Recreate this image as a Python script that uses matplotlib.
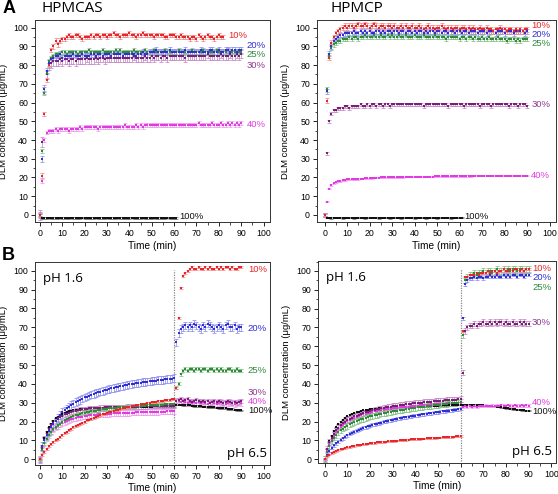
import numpy as np
import matplotlib
matplotlib.use("Agg")
import matplotlib.pyplot as plt
from matplotlib.ticker import MultipleLocator

# ---------------- data ----------------
time_min = list(range(91))
series_names = ["10%", "20%", "25%", "30%", "40%", "100%"]
PH_SWITCH = 60

# Panel A, HPMCAS
A_CAS_10 = [0, 21, 54, 72, 80, 88, 90, 93, 91, 93,
            94, 94, 95, 96, 95, 95, 96, 96, 95, 94,
            95, 95, 95, 96, 95, 96, 96, 95, 96, 96,
            95, 96, 96, 97, 96, 96, 95, 96, 96, 96,
            97, 96, 96, 95, 96, 96, 97, 96, 96, 96,
            96, 95, 96, 96, 96, 96, 95, 95, 96, 96,
            96, 95, 95, 96, 95, 95, 95, 94, 95, 95,
            94, 96, 95, 94, 95, 96, 95, 95, 94, 95,
            96, 95, 95]
A_CAS_20 = [0, 30, 67, 77, 81, 83, 84, 85, 85, 86,
            84, 85, 85, 85, 85, 86, 85, 85, 85, 86,
            85, 85, 85, 86, 86, 85, 86, 86, 85, 86,
            86, 86, 85, 86, 86, 86, 86, 85, 86, 86,
            86, 86, 86, 85, 86, 86, 87, 86, 86, 87,
            87, 87, 88, 87, 87, 87, 87, 87, 88, 87,
            87, 87, 87, 87, 87, 88, 87, 87, 87, 87,
            87, 87, 88, 87, 87, 87, 88, 88, 87, 87,
            88, 87, 87, 88, 88, 87, 88, 88, 87, 88,
            88]
A_CAS_25 = [0, 34, 65, 76, 82, 84, 85, 86, 86, 86,
            87, 87, 86, 87, 87, 87, 87, 86, 87, 87,
            87, 87, 88, 87, 87, 87, 87, 87, 88, 87,
            87, 87, 87, 87, 88, 87, 88, 87, 87, 87,
            87, 87, 88, 87, 87, 87, 87, 88, 87, 87,
            87, 88, 87, 87, 87, 87, 88, 87, 87, 87,
            87, 87, 88, 87, 87, 87, 87, 87, 88, 87,
            87, 87, 87, 88, 87, 87, 87, 87, 87, 88,
            87, 87, 87, 87, 88, 87, 87, 87, 87, 87,
            87]
A_CAS_30 = [0, 39, 67, 75, 80, 81, 82, 82, 82, 83,
            82, 83, 83, 82, 83, 83, 82, 83, 83, 83,
            83, 84, 83, 83, 83, 84, 83, 84, 84, 83,
            84, 84, 84, 84, 84, 84, 84, 84, 84, 84,
            84, 84, 85, 84, 84, 84, 84, 85, 84, 84,
            85, 84, 85, 85, 84, 85, 85, 84, 85, 85,
            85, 85, 85, 85, 85, 84, 85, 85, 85, 85,
            85, 85, 85, 85, 85, 86, 85, 85, 85, 85,
            85, 86, 85, 85, 85, 86, 85, 85, 86, 85,
            86]
A_CAS_40 = [0, 18, 40, 44, 45, 45, 45, 46, 45, 46,
            46, 46, 46, 45, 46, 46, 46, 46, 47, 46,
            47, 47, 47, 47, 47, 47, 46, 47, 47, 47,
            47, 47, 47, 47, 47, 47, 47, 47, 48, 47,
            47, 47, 47, 48, 47, 48, 47, 48, 48, 48,
            48, 48, 48, 48, 48, 48, 48, 48, 48, 48,
            48, 48, 48, 48, 48, 48, 48, 48, 48, 48,
            48, 49, 48, 48, 48, 48, 48, 49, 48, 48,
            48, 49, 48, 48, 49, 48, 49, 48, 49, 48,
            49]
A_CAS_100 = [0, -1.5, -1.6, -1.5, -1.4, -1.5, -1.6, -1.5, -1.5, -1.4,
             -1.5, -1.6, -1.5, -1.5, -1.4, -1.5, -1.5, -1.6, -1.5, -1.4,
             -1.5, -1.5, -1.6, -1.5, -1.5, -1.4, -1.5, -1.6, -1.5, -1.5,
             -1.4, -1.5, -1.5, -1.6, -1.5, -1.4, -1.5, -1.5, -1.6, -1.5,
             -1.5, -1.4, -1.5, -1.6, -1.5, -1.5, -1.4, -1.5, -1.5, -1.6,
             -1.5, -1.4, -1.5, -1.5, -1.6, -1.5, -1.5, -1.4, -1.5, -1.6,
             -1.5, -1.5]

# Panel A, HPMCP
A_CP_10 = [0, 61, 84, 92, 95, 97, 98, 99, 100, 101,
           100, 101, 101, 100, 101, 102, 101, 101, 102, 101,
           100, 101, 102, 101, 100, 101, 101, 100, 101, 101,
           100, 101, 100, 100, 101, 100, 101, 100, 100, 101,
           100, 100, 101, 100, 99, 100, 101, 100, 100, 99,
           100, 100, 101, 100, 99, 100, 100, 99, 100, 100,
           99, 100, 100, 99, 100, 99, 100, 99, 99, 100,
           99, 99, 100, 99, 99, 98, 99, 99, 100, 99,
           99, 98, 99, 99, 98, 99, 98, 99, 98, 99,
           99]
A_CP_20 = [0, 66, 86, 90, 93, 94, 95, 96, 96, 97,
           97, 97, 97, 98, 97, 97, 98, 97, 98, 97,
           98, 97, 97, 98, 98, 97, 98, 97, 98, 98,
           97, 98, 98, 97, 98, 98, 97, 98, 98, 97,
           98, 97, 98, 98, 97, 98, 97, 98, 98, 97,
           98, 98, 97, 98, 98, 97, 98, 98, 97, 98,
           98, 97, 98, 98, 97, 98, 98, 98, 97, 98,
           98, 98, 97, 98, 98, 98, 97, 98, 98, 98,
           97, 98, 98, 98, 97, 98, 98, 98, 98, 97,
           98]
A_CP_25 = [0, 67, 85, 89, 91, 92, 93, 93, 94, 94,
           94, 95, 94, 95, 95, 94, 95, 95, 96, 95,
           95, 95, 96, 95, 95, 96, 95, 95, 96, 95,
           96, 95, 95, 96, 95, 95, 96, 95, 95, 95,
           96, 95, 95, 95, 96, 95, 95, 95, 95, 96,
           95, 95, 95, 95, 94, 95, 95, 95, 95, 95,
           94, 95, 95, 94, 95, 95, 94, 95, 94, 94,
           95, 94, 94, 95, 94, 94, 94, 95, 94, 94,
           94, 93, 94, 94, 94, 93, 94, 93, 94, 94,
           94]
A_CP_30 = [0, 33, 50, 54, 56, 56, 57, 57, 57, 58,
           58, 57, 58, 58, 58, 58, 59, 58, 58, 59,
           58, 59, 59, 58, 59, 59, 58, 59, 59, 58,
           59, 59, 59, 59, 59, 59, 59, 59, 59, 59,
           59, 59, 59, 59, 58, 59, 59, 59, 59, 59,
           59, 59, 59, 59, 59, 58, 59, 59, 59, 59,
           59, 59, 58, 59, 59, 59, 59, 59, 59, 58,
           59, 59, 59, 59, 58, 59, 59, 59, 59, 59,
           59, 59, 58, 59, 59, 59, 58, 59, 59, 59,
           58]
A_CP_40 = [0, 7, 14, 16, 17, 17.5, 18, 18, 18.5, 18.5,
           19, 19, 19, 19, 19, 19.2, 19.3, 19.4, 19.5, 19.5,
           19.6, 19.7, 19.8, 19.8, 19.9, 20, 20, 20, 20, 20,
           20, 20.1, 20.1, 20.2, 20.2, 20.2, 20.3, 20.3, 20.3, 20.4,
           20.4, 20.4, 20.4, 20.5, 20.5, 20.5, 20.5, 20.5, 20.5, 20.6,
           20.6, 20.6, 20.6, 20.6, 20.7, 20.7, 20.7, 20.7, 20.7, 20.8,
           20.8, 20.8, 20.8, 20.8, 20.8, 20.8, 20.9, 20.9, 20.9, 20.9,
           20.9, 20.9, 20.9, 21, 21, 21, 21, 21, 21, 21,
           21, 21, 21, 21, 21, 21, 21, 21, 21, 21,
           21]
A_CP_100 = [0, -1.5, -1.5, -1.6, -1.5, -1.4, -1.5, -1.5, -1.6, -1.5,
            -1.4, -1.5, -1.5, -1.6, -1.5, -1.5, -1.4, -1.5, -1.6, -1.5,
            -1.5, -1.4, -1.5, -1.5, -1.6, -1.5, -1.4, -1.5, -1.5, -1.6,
            -1.5, -1.5, -1.4, -1.5, -1.6, -1.5, -1.5, -1.4, -1.5, -1.5,
            -1.6, -1.5, -1.4, -1.5, -1.5, -1.6, -1.5, -1.5, -1.4, -1.5,
            -1.6, -1.5, -1.5, -1.4, -1.5, -1.5, -1.6, -1.5, -1.4, -1.5,
            -1.5, -1.5]

# Panel B, HPMCAS (pH 1.6 -> 6.5 at 60 min)
B_CAS_10 = [0, 2.5, 4, 5.5, 7, 8, 9, 10, 11, 12,
            13, 14, 14.7, 15.5, 16.2, 17, 17.6, 18.3, 18.9, 19.5,
            20, 20.6, 21.1, 21.6, 22.1, 22.5, 23, 23.4, 23.8, 24.2,
            24.6, 25, 25.3, 25.7, 26, 26.3, 26.6, 27, 27.3, 27.5,
            27.8, 28.1, 28.4, 28.6, 28.9, 29.1, 29.4, 29.6, 29.8, 30,
            30.2, 30.4, 30.6, 30.8, 31, 31.1, 31.3, 31.5, 31.6, 31.8,
            32, 38, 75, 91, 97, 99, 100, 101, 102, 101,
            101, 102, 101, 101, 102, 101, 102, 101, 101, 102,
            101, 102, 101, 102, 102, 101, 102, 101, 101, 102,
            102]
B_CAS_20 = [0, 7, 10.5, 13, 15, 17, 19, 20.5, 22, 23.5,
            25, 26, 27, 28, 28.8, 29.6, 30.4, 31, 31.6, 32.2,
            32.8, 33.3, 33.8, 34.3, 34.7, 35.1, 35.5, 35.9, 36.3, 36.6,
            37, 37.3, 37.6, 37.9, 38.2, 38.5, 38.7, 39, 39.2, 39.5,
            39.7, 39.9, 40.1, 40.3, 40.5, 40.7, 40.9, 41, 41.2, 41.4,
            41.5, 41.7, 41.8, 42, 42.1, 42.2, 42.4, 42.5, 42.6, 42.8,
            43, 62, 67, 69, 70, 71, 70, 71, 70, 72,
            71, 70, 69, 71, 70, 72, 71, 70, 69, 70,
            71, 70, 69, 71, 72, 70, 70, 71, 69, 70,
            70]
B_CAS_25 = [0, 5, 8.5, 11, 13, 14.5, 16, 17, 18, 19,
            20, 20.7, 21.3, 21.9, 22.4, 22.9, 23.3, 23.7, 24.1, 24.4,
            24.7, 25, 25.3, 25.5, 25.7, 25.9, 26.1, 26.3, 26.5, 26.7,
            26.8, 27, 27.1, 27.3, 27.4, 27.5, 27.6, 27.7, 27.8, 27.9,
            28, 28.1, 28.2, 28.3, 28.3, 28.4, 28.5, 28.5, 28.6, 28.7,
            28.7, 28.8, 28.8, 28.9, 29, 29, 29.1, 29.1, 29.2, 29.2,
            29.3, 38, 40, 45, 47, 48, 47, 48, 48, 47,
            48, 48, 47, 48, 48, 47, 48, 48, 47, 48,
            47, 48, 47, 47, 48, 48, 47, 47, 48, 47,
            47]
B_CAS_30 = [0, 6, 10.5, 13.5, 16, 18, 19.5, 20.5, 21.5, 22.5,
            23.2, 23.8, 24.3, 24.8, 25.2, 25.5, 25.8, 26.1, 26.3, 26.5,
            26.7, 26.8, 27, 27.1, 27.2, 27.2, 27.3, 27.4, 27.4, 27.5,
            27.5, 27.6, 27.6, 27.7, 27.7, 27.7, 27.8, 27.8, 27.8, 27.9,
            27.9, 27.9, 28, 28, 28, 28, 28.1, 28.1, 28.1, 28.2,
            28.2, 28.2, 28.2, 28.3, 28.3, 28.3, 28.3, 28.4, 28.4, 28.4,
            28.5, 31, 31.5, 32, 31, 31.5, 32, 31, 30.5, 31,
            31.5, 31, 30.5, 31, 30.5, 31, 30, 30.5, 31, 30.5,
            31, 30.5, 30, 30.5, 31, 30.5, 30, 30.5, 30, 30.5,
            31]
B_CAS_40 = [0, 5, 8.5, 11, 13, 14.5, 15.8, 16.8, 17.7, 18.5,
            19.2, 19.8, 20.3, 20.8, 21.2, 21.6, 21.9, 22.2, 22.5, 22.7,
            22.9, 23.1, 23.3, 23.4, 23.5, 23.7, 23.8, 23.9, 24, 24.1,
            24.2, 24.2, 24.3, 24.4, 24.4, 24.5, 24.5, 24.6, 24.6, 24.7,
            24.7, 24.8, 24.8, 24.9, 24.9, 25, 25, 25, 25.1, 25.1,
            25.1, 25.2, 25.2, 25.2, 25.3, 25.3, 25.3, 25.4, 25.4, 25.4,
            25.5, 31, 31, 30.5, 31, 30.5, 30, 30.5, 30, 30.5,
            30, 30.5, 30, 30.5, 30, 29.5, 30, 30.5, 30, 29.5,
            30, 30.5, 30, 29.5, 30, 30.5, 30, 29.5, 30, 30.5,
            30]
B_CAS_100 = [0, 7, 11.5, 14.5, 17, 19, 20.5, 21.7, 22.7, 23.5,
             24.1, 24.6, 25, 25.4, 25.7, 26, 26.2, 26.4, 26.6, 26.7,
             26.8, 26.9, 27, 27.1, 27.2, 27.2, 27.3, 27.3, 27.4, 27.4,
             27.5, 27.5, 27.5, 27.6, 27.6, 27.6, 27.7, 27.7, 27.7, 27.8,
             27.8, 27.8, 27.8, 27.9, 27.9, 27.9, 28, 28, 28, 28,
             28, 28.1, 28.1, 28.1, 28.2, 28.2, 28.2, 28.3, 28.3, 28.3,
             28.4, 29, 29, 29, 28.9, 28.8, 28.7, 28.6, 28.5, 28.4,
             28.3, 28.2, 28.1, 28, 27.9, 27.8, 27.7, 27.6, 27.5, 27.4,
             27.3, 27.2, 27.1, 27, 26.8, 26.7, 26.6, 26.4, 26.3, 26.1,
             26]

# Panel B, HPMCP
B_CP_10 = [0, 1.5, 2.5, 3.2, 3.8, 4.3, 4.8, 5.2, 5.6, 6,
           6.3, 6.6, 6.9, 7.1, 7.3, 7.5, 7.7, 7.9, 8.1, 8.3,
           8.4, 8.6, 8.7, 8.9, 9, 9.1, 9.2, 9.4, 9.5, 9.6,
           9.7, 9.8, 9.9, 10, 10.1, 10.2, 10.3, 10.4, 10.5, 10.6,
           10.7, 10.8, 10.8, 10.9, 11, 11.1, 11.2, 11.2, 11.3, 11.4,
           11.5, 11.5, 11.6, 11.7, 11.8, 11.8, 11.9, 12, 12.1, 12.1,
           12.2, 68, 97, 97, 98, 98, 98, 99, 98, 99,
           99, 99, 100, 99, 100, 100, 99, 100, 100, 101,
           100, 100, 101, 100, 101, 101, 100, 101, 100, 101,
           101]
B_CP_20 = [0, 2.5, 4.5, 6, 7.3, 8.4, 9.4, 10.3, 11.2, 12,
           12.7, 13.4, 14, 14.6, 15.1, 15.6, 16.1, 16.6, 17, 17.4,
           17.8, 18.2, 18.5, 18.9, 19.2, 19.5, 19.8, 20.1, 20.4, 20.7,
           21, 21.2, 21.5, 21.7, 22, 22.2, 22.4, 22.6, 22.8, 23,
           23.2, 23.4, 23.6, 23.8, 24, 24.2, 24.4, 24.5, 24.7, 24.9,
           25, 25.2, 25.4, 25.5, 25.7, 25.8, 26, 26.2, 26.3, 26.5,
           26.7, 75, 93, 95, 96, 96, 97, 96, 97, 97,
           96, 97, 97, 98, 97, 97, 98, 97, 97, 98,
           97, 98, 97, 98, 98, 97, 98, 98, 97, 98,
           98]
B_CP_25 = [0, 4, 7, 9.5, 11.5, 13, 14.3, 15.4, 16.3, 17.1,
           17.8, 18.5, 19.1, 19.7, 20.2, 20.7, 21.1, 21.5, 21.9, 22.3,
           22.7, 23, 23.3, 23.6, 23.9, 24.2, 24.5, 24.7, 25, 25.2,
           25.4, 25.6, 25.8, 26, 26.2, 26.4, 26.6, 26.8, 27, 27.2,
           27.3, 27.5, 27.7, 27.8, 28, 28.1, 28.3, 28.4, 28.6, 28.7,
           28.9, 29, 29.1, 29.3, 29.4, 29.6, 29.7, 29.8, 30, 30.1,
           30.3, 66, 95, 97, 98, 98, 99, 98, 99, 99,
           100, 99, 100, 100, 99, 100, 101, 100, 100, 101,
           100, 101, 100, 101, 101, 100, 101, 101, 100, 101,
           101]
B_CP_30 = [0, 5.5, 9, 11.5, 13.5, 15.3, 16.8, 18, 19, 20,
           20.8, 21.5, 22.1, 22.7, 23.2, 23.7, 24.1, 24.5, 24.9, 25.3,
           25.6, 25.9, 26.2, 26.5, 26.8, 27, 27.3, 27.5, 27.7, 27.9,
           28.1, 28.3, 28.5, 28.7, 28.8, 29, 29.2, 29.3, 29.5, 29.6,
           29.8, 29.9, 30, 30.1, 30.3, 30.4, 30.5, 30.6, 30.7, 30.8,
           30.9, 31, 31.1, 31.2, 31.3, 31.4, 31.5, 31.6, 31.7, 31.8,
           32, 46, 68, 70, 71, 71, 72, 71, 72, 72,
           73, 72, 72, 73, 72, 73, 72, 73, 73, 72,
           73, 72, 72, 73, 72, 72, 73, 72, 73, 72,
           72]
B_CP_40 = [0, 5, 8, 10.5, 12.5, 14.5, 16, 17.3, 18.4, 19.3,
           20.1, 20.8, 21.4, 22, 22.5, 23, 23.4, 23.8, 24.2, 24.5,
           24.8, 25.1, 25.4, 25.6, 25.9, 26.1, 26.3, 26.5, 26.7, 26.9,
           27, 27.2, 27.4, 27.5, 27.7, 27.8, 27.9, 28, 28.2, 28.3,
           28.4, 28.5, 28.6, 28.7, 28.8, 28.9, 29, 29.1, 29.2, 29.2,
           29.3, 29.4, 29.5, 29.5, 29.6, 29.7, 29.7, 29.8, 29.9, 29.9,
           30, 28, 28.5, 28, 28.3, 28, 28.2, 28, 28.3, 28.4,
           28.2, 28.5, 28.3, 28.4, 28.5, 28.3, 28.5, 28.4, 28.6, 28.5,
           28.4, 28.6, 28.5, 28.4, 28.6, 28.5, 28.5, 28.6, 28.5, 28.6,
           28.5]
B_CP_100 = [0, 5.5, 9.5, 12.5, 15, 17, 18.5, 19.8, 21, 22,
            22.8, 23.5, 24, 24.5, 24.9, 25.3, 25.6, 25.9, 26.1, 26.3,
            26.5, 26.6, 26.8, 26.9, 27, 27.1, 27.2, 27.3, 27.3, 27.4,
            27.5, 27.5, 27.6, 27.7, 27.7, 27.8, 27.8, 27.9, 27.9, 28,
            28, 28.1, 28.1, 28.2, 28.2, 28.3, 28.3, 28.4, 28.4, 28.5,
            28.5, 28.6, 28.6, 28.7, 28.7, 28.8, 28.8, 28.9, 28.9, 29,
            29, 29, 29, 29, 28.9, 28.9, 28.8, 28.8, 28.7, 28.7,
            28.6, 28.5, 28.4, 28.3, 28.2, 28.1, 28, 27.8, 27.6, 27.4,
            27.2, 27, 26.9, 26.7, 26.5, 26.4, 26.2, 26.1, 25.9, 25.8,
            25.7]

# typical standard deviations (ug/mL) per series
A_CAS_err = [1.2, 1.5, 1.0, 2.5, 1.0, 0.4]
A_CP_err = [1.2, 1.3, 1.2, 0.8, 0.3, 0.3]
B_CAS_err = [0.5, 2.0, 0.8, 1.2, 1.5, 0.4]
B_CP_err = [0.4, 0.8, 1.5, 1.5, 0.6, 0.3]

# ---------------- styling ----------------
colors = ["#e8262a", "#2f2fd4", "#2e8b3a", "#7a1e7a", "#e03be0", "#111111"]
err_colors = ["#ee8c8c", "#9090ee", "#84c284", "#c48ac4", "#f09cf0", "#777777"]
label_colors = ["#e8262a", "#2f2fd4", "#2e8b3a", "#8e3a8e", "#e03be0", "#111111"]

TICK_FONT = "Liberation Sans"
TEXT_FONT = "Open Sans"

fig = plt.figure(figsize=(5.58, 4.94), dpi=100)

axA1 = fig.add_axes([0.0627, 0.5496, 0.4213, 0.4099])
axA2 = fig.add_axes([0.5680, 0.5496, 0.4284, 0.4099])
axB1 = fig.add_axes([0.0627, 0.0587, 0.4213, 0.4119])
axB2 = fig.add_axes([0.5700, 0.0628, 0.4264, 0.4089])


def draw_panel(ax, data, errs, label_t, label_y, xlim, ylim, pH=False):
    order = [5, 4, 3, 2, 1, 0]
    for i in order:
        v = data[i]
        t = time_min[:len(v)]
        ax.errorbar(t, v, yerr=errs[i], fmt="none",
                    ecolor=err_colors[i], elinewidth=0.55,
                    capsize=1.3, capthick=0.55, zorder=2)
    for i in order:
        v = data[i]
        t = time_min[:len(v)]
        ax.plot(t, v, "s", ms=1.9, mew=0, color=colors[i],
                zorder=3 + (5 - i) * 0.1)
    for i, name in enumerate(series_names):
        ax.text(label_t[i], label_y[i], name, color=label_colors[i],
                fontsize=6.8, family=TICK_FONT, va="center", ha="left",
                zorder=10)
    ax.set_xlim(*xlim)
    ax.set_ylim(*ylim)
    ax.xaxis.set_major_locator(MultipleLocator(10))
    ax.xaxis.set_minor_locator(MultipleLocator(5))
    ax.yaxis.set_major_locator(MultipleLocator(10))
    ax.yaxis.set_minor_locator(MultipleLocator(5))
    ax.tick_params(which="major", direction="out", length=3, width=0.6,
                   labelsize=6.3, pad=2)
    ax.tick_params(which="minor", direction="out", length=1.8, width=0.5)
    for lab in ax.get_xticklabels() + ax.get_yticklabels():
        lab.set_family(TICK_FONT)
    for s in ax.spines.values():
        s.set_linewidth(0.7)
        s.set_color("#333333")
    ax.set_xlabel("Time (min)", fontsize=7.3, family=TICK_FONT, labelpad=1.5)
    ax.set_ylabel("DLM concentration (\u03bcg/mL)", fontsize=6.8,
                  family=TICK_FONT, labelpad=4)
    if pH:
        ax.axvline(PH_SWITCH, ymin=0.01, ymax=0.96, color="#888888",
                   ls=(0, (1, 1)), lw=0.9, zorder=1)
        ax.text(0.035, 0.95, "pH 1.6", transform=ax.transAxes,
                fontsize=9.5, family=TEXT_FONT, va="top", ha="left")
        ax.text(0.985, 0.025, "pH 6.5", transform=ax.transAxes,
                fontsize=9.5, family=TEXT_FONT, va="bottom", ha="right")


draw_panel(axA1, [A_CAS_10, A_CAS_20, A_CAS_25, A_CAS_30, A_CAS_40, A_CAS_100],
           A_CAS_err, [84, 92.5, 92.5, 92.5, 92.5, 62.5],
           [95.5, 90.2, 85.6, 79.6, 48.4, -0.7], (-2.2, 102.9), (-4, 104))
draw_panel(axA2, [A_CP_10, A_CP_20, A_CP_25, A_CP_30, A_CP_40, A_CP_100],
           A_CP_err, [91.8, 91.8, 91.8, 91.8, 91.8, 62.2],
           [100.9, 96.3, 91.5, 58.7, 20.9, -0.7], (-3.4, 102.8), (-4, 104))
draw_panel(axB1, [B_CAS_10, B_CAS_20, B_CAS_25, B_CAS_30, B_CAS_40, B_CAS_100],
           B_CAS_err, [93, 93, 93, 93, 93, 93],
           [100.9, 69.6, 46.9, 35.4, 30.6, 25.8], (-2.2, 102.9), (-3, 104.9),
           pH=True)
draw_panel(axB2, [B_CP_10, B_CP_20, B_CP_25, B_CP_30, B_CP_40, B_CP_100],
           B_CP_err, [91.5, 91.5, 91.5, 91.5, 91.5, 91.5],
           [101.4, 96.6, 91.3, 72.5, 30.0, 25.3], (-3.0, 102.1), (-2, 105.3),
           pH=True)

# titles and panel letters
fig.text(0.075, 0.983, "HPMCAS", fontsize=11, family=TEXT_FONT,
         va="center", ha="left")
fig.text(0.593, 0.983, "HPMCP", fontsize=11, family=TEXT_FONT,
         va="center", ha="left")
fig.text(0.004, 0.983, "A", fontsize=13, fontweight="bold",
         family="Liberation Sans", va="center", ha="left")
fig.text(0.004, 0.482, "B", fontsize=13, fontweight="bold",
         family="Liberation Sans", va="center", ha="left")

fig.savefig("out.png", dpi=100)
